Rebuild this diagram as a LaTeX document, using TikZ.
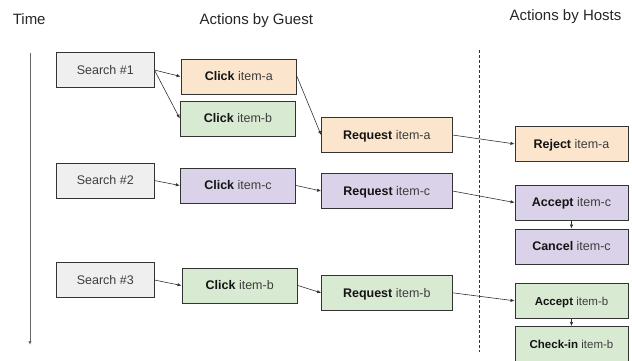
\documentclass[tikz,border=0pt]{standalone}
\usepackage{fontspec}
\setmainfont{Liberation Sans}
\usetikzlibrary{arrows.meta}
\definecolor{peach}{HTML}{FCE5CD}
\definecolor{mint}{HTML}{D9EAD3}
\definecolor{lilac}{HTML}{D9D2E9}
\definecolor{ash}{HTML}{EFEFEF}
\definecolor{ink}{HTML}{333333}
\newcommand{\act}[2]{\textbf{\textcolor{black!92}{#1}} #2}
\tikzset{
  box/.style={draw=ink, line width=0.9pt, inner sep=0pt, minimum height=35pt,
    text height=8.95pt, text depth=0pt, font=\fontsize{12.5}{14}\selectfont, text=black!76},
  search/.style={box, fill=ash, minimum width=97.3pt},
  click/.style={box, minimum width=115.5pt},
  request/.style={box, minimum width=130.5pt},
  host/.style={box, minimum width=113pt},
  link/.style={draw=ink, line width=0.6pt, -{Latex[length=4pt,width=3.4pt]}},
  title/.style={anchor=base, font=\fontsize{15}{18}\selectfont, text=black!85},
}

\begin{document}
\begin{tikzpicture}[x=1pt, y=-1pt]
  \useasboundingbox (0,0) rectangle (632,360);

  % headings
  \node[title] (time) at (29.2,24) {Time};
  \node[title] (guest) at (256.3,24) {Actions by Guest};
  \node[title] (hosts) at (565.5,20.7) {Actions by Hosts};

  % time axis and guest / host split
  \coordinate (ttop) at (30,52.7);
  \coordinate (tbot) at (30,345);
  \draw[black!60, line width=0.8pt, -{Latex[length=4pt,width=3.4pt]}] (ttop) -- (tbot);
  \coordinate (stop) at (479.3,50);
  \coordinate (sbot) at (479.3,352);
  \draw[ink, line width=0.8pt, dash pattern=on 3pt off 2pt] (stop) -- (sbot);

  % first search
  \node[search] (srch1) at (105.3,70) {Search \#1};
  \node[click, fill=peach] (clka) at (238.8,76.5) {\act{Click}{item-a}};
  \node[click, fill=mint] (clkb) at (238,118.5) {\act{Click}{item-b}};
  \node[request, fill=peach] (reqa) at (386.8,135) {\act{Request}{item-a}};
  \node[host, fill=peach] (reja) at (571.5,143.9) {\act{Reject}{item-a}};

  % second search
  \node[search] (srch2) at (105.3,180.5) {Search \#2};
  \node[click, fill=lilac] (clkc) at (238,185.5) {\act{Click}{item-c}};
  \node[request, fill=lilac] (reqc) at (386.8,191) {\act{Request}{item-c}};
  \node[host, fill=lilac] (accc) at (571.5,202.5) {\act{Accept}{item-c}};
  \node[host, fill=lilac] (canc) at (571.5,246.5) {\act{Cancel}{item-c}};

  % third search
  \node[search] (srch3) at (105.3,280) {Search \#3};
  \node[click, fill=mint] (clkb2) at (239.7,285.5) {\act{Click}{item-b}};
  \node[request, fill=mint] (reqb) at (386.8,292.8) {\act{Request}{item-b}};
  \node[host, fill=mint, font=\fontsize{11.5}{13}\selectfont] (accb) at (571.5,300.8) {\act{Accept}{item-b}};
  \node[host, fill=mint, font=\fontsize{11.5}{13}\selectfont] (chkb) at (571.5,344) {\act{Check-in}{item-b}};

  \draw[link] (srch1.east) -- (clka.west);
  \draw[link] (srch1.east) -- (clkb.west);
  \draw[link] (clka.east) -- (reqa.west);
  \draw[link] (reqa.east) -- (reja.west);

  \draw[link] (srch2.east) -- (clkc.west);
  \draw[link] (clkc.east) -- (reqc.west);
  \draw[link] (reqc.east) -- (accc.west);
  \draw[link] (accc.south) -- (canc.north);

  \draw[link] (srch3.east) -- (clkb2.west);
  \draw[link] (clkb2.east) -- (reqb.west);
  \draw[link] (reqb.east) -- (accb.west);
  \draw[link] (accb.south) -- (chkb.north);
\end{tikzpicture}
\end{document}
